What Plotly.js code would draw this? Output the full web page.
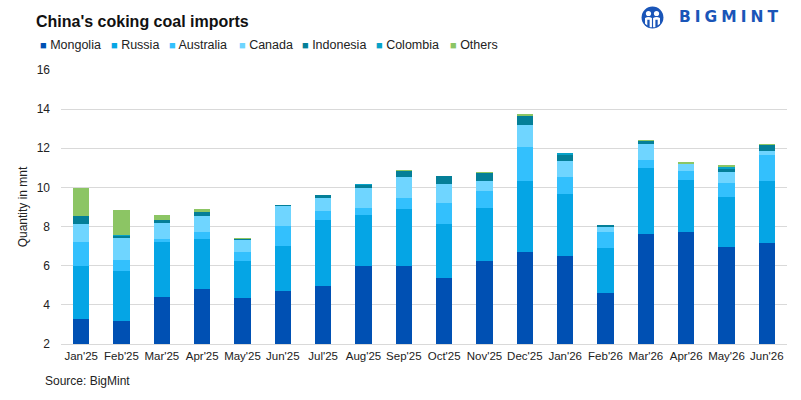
<!DOCTYPE html>
<html>
<head>
<meta charset="utf-8">
<script src="https://cdn.plot.ly/plotly-3.0.1.min.js"></script>
<style>
  html, body { margin: 0; padding: 0; background: #fff; }
  #chart { width: 801px; height: 400px; }
</style>
</head>
<body>
<div id="chart"></div>
<script>
// Months on the x axis
const months = ["Jan'25", "Feb'25", "Mar'25", "Apr'25", "May'25", "Jun'25", "Jul'25", "Aug'25", "Sep'25",
  "Oct'25", "Nov'25", "Dec'25", "Jan'26", "Feb'26", "Mar'26", "Apr'26", "May'26", "Jun'26"];

// Imports by origin, mnt
const mongolia  = [3.28, 3.18, 4.40, 4.81, 4.35, 4.71, 4.98, 5.99, 5.99, 5.38, 6.25, 6.71, 6.50, 4.61, 7.63, 7.73, 6.96, 7.17];
const russia    = [2.71, 2.56, 2.82, 2.56, 1.90, 2.31, 3.37, 2.61, 2.92, 2.76, 2.71, 3.63, 3.18, 2.30, 3.38, 2.66, 2.56, 3.17];
const australia = [1.23, 0.56, 0.15, 0.36, 0.46, 1.02, 0.46, 0.36, 0.56, 1.07, 0.87, 1.74, 0.87, 0.82, 0.41, 0.46, 0.72, 1.33];
const canada    = [0.92, 1.13, 0.82, 0.82, 0.61, 1.02, 0.66, 1.02, 1.08, 0.98, 0.51, 1.13, 0.82, 0.26, 0.82, 0.36, 0.56, 0.21];
const indonesia = [0.41, 0.11, 0.16, 0.21, 0.05, 0.05, 0.16, 0.16, 0.30, 0.41, 0.41, 0.46, 0.30, 0.10, 0.15, 0.00, 0.16, 0.31];
const colombia  = [0.00, 0.05, 0.00, 0.00, 0.00, 0.00, 0.00, 0.05, 0.00, 0.00, 0.00, 0.00, 0.07, 0.00, 0.00, 0.00, 0.10, 0.00];
const others    = [1.43, 1.27, 0.25, 0.15, 0.05, 0.00, 0.00, 0.00, 0.05, 0.00, 0.05, 0.10, 0.04, 0.00, 0.05, 0.10, 0.10, 0.05];

const seriesNames = ['Mongolia', 'Russia', 'Australia', 'Canada', 'Indonesia', 'Colombia', 'Others'];
const seriesData = [mongolia, russia, australia, canada, indonesia, colombia, others];
const seriesColors = ['#0050b3', '#05a5e5', '#33c0fd', '#6fd5ff', '#047f98', '#07a2c8', '#8cc564'];

const font = "'Liberation Sans', Arial, sans-serif";

// plot area in px (for placing the notes outside it)
const plotL = 61, plotR = 787, plotT = 70, plotB = 344;
const px = v => (v - plotL) / (plotR - plotL);
const py = v => (plotB - v) / (plotB - plotT);

const traces = seriesNames.map((name, i) => ({
  type: 'bar',
  name: name,
  x: months,
  y: seriesData[i],
  marker: { color: seriesColors[i], line: { width: 0 } },
  hoverinfo: 'x+y+name'
}));

// legend drawn as a row of notes with small squares, like the original
const legendX = [38, 109, 167, 237, 300, 374, 448];
const legendNotes = seriesNames.map((name, i) => ({
  text: '<span style="color:' + seriesColors[i] + ';font-size:11px">■</span> ' + name,
  xref: 'paper', yref: 'paper',
  x: px(legendX[i]), xanchor: 'left',
  y: py(45), yanchor: 'middle',
  showarrow: false,
  font: { family: font, size: 12.5, color: '#222' }
}));

// Small logo mark as an inline svg
const logoSvg = '<svg xmlns="http://www.w3.org/2000/svg" width="40" height="40" viewBox="0 0 40 40">' +
  '<circle cx="20" cy="20" r="19" fill="#1a55b8"/>' +
  '<circle cx="13" cy="13" r="4.5" fill="#fff"/><circle cx="27" cy="13" r="4.5" fill="#fff"/>' +
  '<path d="M7 21 Q13 17 19 21 L19 37 L15 37 L15 24 L11 24 L11 34 L7 31 Z" fill="#fff"/>' +
  '<path d="M33 21 Q27 17 21 21 L21 37 L25 37 L25 24 L29 24 L29 34 L33 31 Z" fill="#fff"/>' +
  '</svg>';

const layout = {
  width: 801,
  height: 400,
  margin: { l: plotL, r: 801 - plotR, t: plotT, b: 400 - plotB },
  paper_bgcolor: '#fff',
  plot_bgcolor: '#fff',
  barmode: 'stack',
  bargap: 0.6,
  font: { family: font, size: 12, color: '#222' },
  title: {
    text: "<b>China's coking coal imports</b>",
    font: { family: font, size: 16, color: '#111' },
    x: 36 / 801, xanchor: 'left',
    y: 1 - 21 / 400, yanchor: 'middle'
  },
  showlegend: false,
  xaxis: {
    type: 'category',
    tickfont: { family: font, size: 11.5, color: '#222' },
    showgrid: false,
    showline: true,
    linecolor: '#d9d9d9',
    linewidth: 1,
    ticks: '',
    ticklabelstandoff: 1
  },
  yaxis: {
    range: [2, 16],
    dtick: 2,
    tickfont: { family: font, size: 12, color: '#222' },
    gridcolor: '#d9d9d9',
    gridwidth: 1,
    zeroline: false,
    showline: false,
    ticks: '',
    ticklabelstandoff: 10,
    title: {
      text: 'Quantity in mnt',
      font: { family: font, size: 12, color: '#222' },
      standoff: 6
    }
  },
  annotations: legendNotes.concat([
    {
      text: 'Source: BigMint',
      xref: 'paper', yref: 'paper',
      x: px(43), xanchor: 'left',
      y: py(381), yanchor: 'middle',
      showarrow: false,
      font: { family: font, size: 12, color: '#222' }
    },
    {
      text: '<b><span style="letter-spacing:4px">BIGMINT</span></b>',
      xref: 'paper', yref: 'paper',
      x: px(677), xanchor: 'left',
      y: py(17), yanchor: 'middle',
      showarrow: false,
      font: { family: "'DejaVu Sans', sans-serif", size: 15.5, color: '#1a55b8' }
    }
  ]),
  images: [
    {
      source: 'data:image/svg+xml;utf8,' + encodeURIComponent(logoSvg),
      xref: 'paper', yref: 'paper',
      x: px(641), xanchor: 'left',
      y: py(6), yanchor: 'top',
      sizex: 23 / (plotR - plotL), sizey: 23 / (plotB - plotT),
      sizing: 'contain',
      layer: 'above'
    }
  ]
};

Plotly.newPlot('chart', traces, layout, { displayModeBar: false, staticPlot: true });
</script>
</body>
</html>
